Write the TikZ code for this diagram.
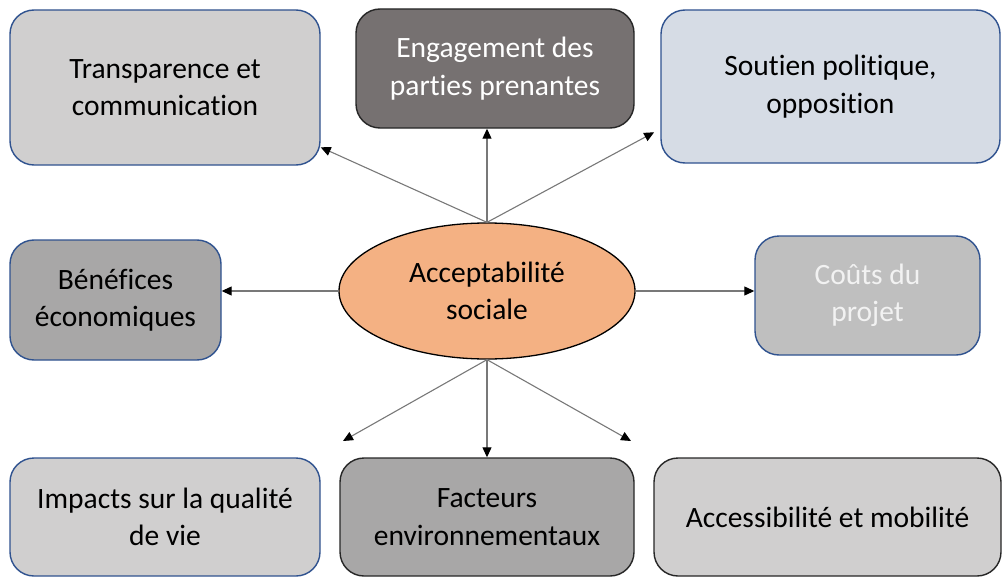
\documentclass[tikz,border=0pt]{standalone}
\usepackage{fontspec}
\setmainfont[Ligatures=NoCommon]{Carlito}
\usepackage{tikz}
\usetikzlibrary{shapes.geometric,arrows.meta}
\definecolor{boxblue}{RGB}{47,82,143}
\definecolor{lightgray}{RGB}{208,207,207}
\definecolor{darkgray}{RGB}{118,113,113}
\definecolor{midgray}{RGB}{168,167,167}
\definecolor{paleblue}{RGB}{214,220,229}
\definecolor{orange}{RGB}{244,177,131}
\definecolor{arrowgray}{RGB}{120,120,120}

\begin{document}
\begin{tikzpicture}[line cap=round,line join=round,x=1pt,y=-1pt,
    box/.style={rectangle, rounded corners=24pt, line width=1.4pt, align=center,
                font=\fontsize{29.5}{37.5}\selectfont, inner sep=0pt},
    bluebox/.style={box, draw=boxblue},
    blackbox/.style={box, draw=black!85},
    arrow/.style={-{Triangle[length=10pt,width=9pt,color=black]}, draw=arrowgray, line width=1.1pt}]

	%\draw [step=50] (0,0) grid (1004,578);
    \useasboundingbox (0,0) rectangle (1004,578);

    \node [ellipse, draw=black, line width=1.3pt, fill=orange, minimum width=296, minimum height=136,
           align=center, inner sep=0pt, font=\fontsize{29.5}{37.5}\selectfont] (accept) at (487,291) {Acceptabilité\\sociale};

    \node [bluebox, fill=lightgray, minimum width=310, minimum height=155] (transp) at (165,87.5) {Transparence et\\communication};
    \node [blackbox, fill=darkgray, text=white, minimum width=278, minimum height=119] (engag) at (495,68.5) {Engagement des\\parties prenantes};
    \node [bluebox, fill=paleblue, minimum width=339, minimum height=153] (soutien) at (830.5,86.5) {Soutien politique,\\opposition};

    \node [bluebox, fill=midgray, minimum width=211, minimum height=120] (benef) at (115.5,300) {Bénéfices\\économiques};
    \node [bluebox, fill=black!25, text=black!5, minimum width=225, minimum height=119] (couts) at (867.5,295.5) {Coûts du\\projet};

    \node [bluebox, fill=lightgray, minimum width=310, minimum height=118] (impacts) at (165,517) {Impacts sur la qualité\\de vie};
    \node [blackbox, fill=midgray, minimum width=294, minimum height=118] (facteurs) at (487,517) {Facteurs\\environnementaux};
    \node [blackbox, fill=lightgray, minimum width=347, minimum height=118] (access) at (827.5,517) {Accessibilité et mobilité};

    \coordinate (tipI) at (343,441);
    \coordinate (tipA) at (631,441);

    \draw [arrow] (accept.north) -- (transp.-21);
    \draw [arrow] (accept.north) -- (accept.north |- engag.south);
    \draw [arrow, shorten >=7pt] (accept.north) -- (soutien.194);

    \draw [arrow] (accept.west) -- (benef.east |- accept.west);
    \draw [arrow] (accept.east) -- (couts.west |- accept.east);

    \draw [arrow] (accept.south) -- (tipI);
    \draw [arrow] (accept.south) -- (facteurs.north);
    \draw [arrow] (accept.south) -- (tipA);
\end{tikzpicture}
\end{document}
